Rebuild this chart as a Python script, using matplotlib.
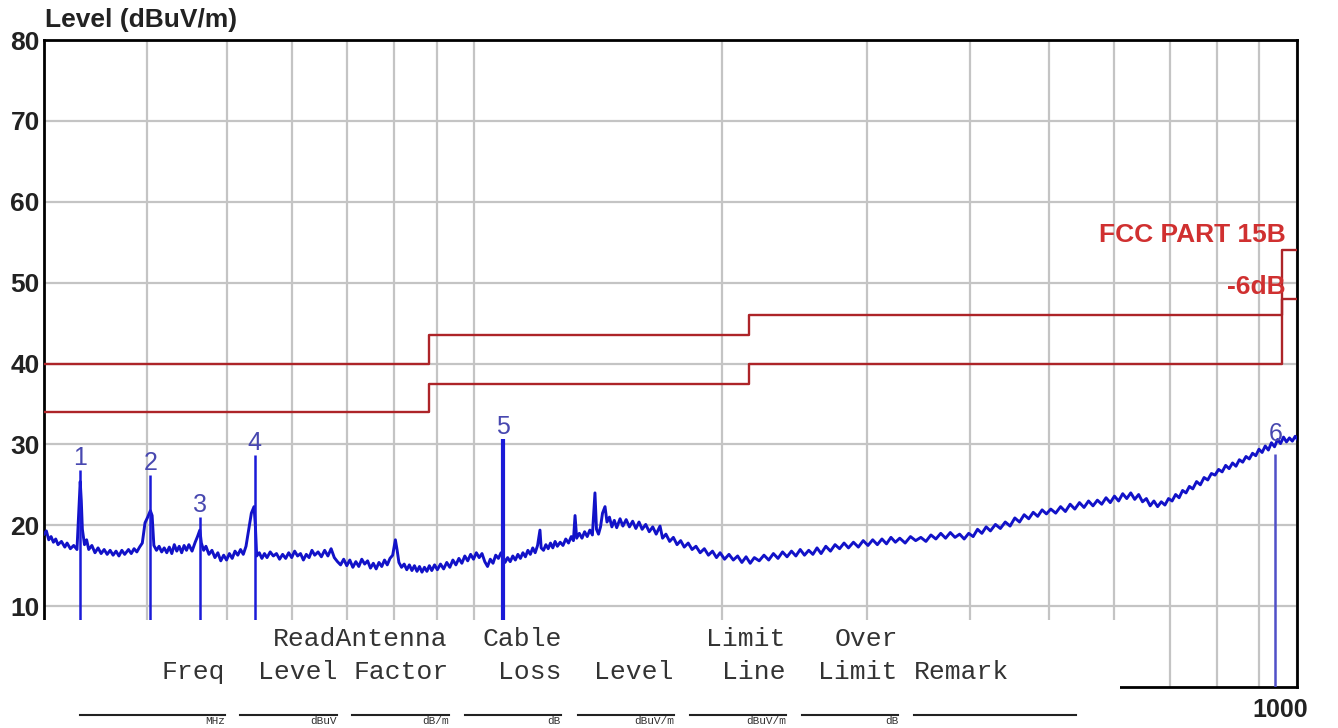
import numpy as np
import matplotlib.pyplot as plt
import matplotlib.transforms as mtransforms
from matplotlib.patches import Rectangle
from matplotlib.lines import Line2D
from matplotlib.ticker import NullFormatter

plt.rcParams['font.family'] = ['Liberation Sans', 'DejaVu Sans']

# scan trace (MHz, dBuV/m)
freq_mhz = [
    30.0, 30.2, 30.4, 30.6, 30.8, 31.0, 31.2, 31.5, 31.8, 32.0,
    32.3, 32.6, 32.9, 33.1, 33.2, 33.3, 33.4, 33.6, 33.8, 34.0,
    34.3, 34.6, 34.9, 35.2, 35.5, 35.8, 36.1, 36.4, 36.7, 37.0,
    37.3, 37.6, 38.0, 38.3, 38.6, 38.9, 39.2, 39.5, 39.8, 40.1,
    40.4, 40.6, 40.8, 41.1, 41.4, 41.7, 42.0, 42.3, 42.6, 42.9,
    43.2, 43.5, 43.8, 44.1, 44.4, 44.7, 45.0, 45.4, 45.8, 46.1,
    46.4, 46.6, 46.9, 47.2, 47.6, 48.0, 48.4, 48.8, 49.2, 49.6,
    50.0, 50.4, 50.8, 51.2, 51.6, 52.0, 52.4, 52.8, 53.2, 53.6,
    54.0, 54.2, 54.4, 54.8, 55.2, 55.6, 56.0, 56.5, 57.0, 57.5,
    58.0, 58.5, 59.0, 59.5, 60.0, 60.5, 61.0, 61.5, 62.0, 62.5,
    63.0, 63.5, 64.0, 64.6, 65.2, 65.8, 66.4, 67.0, 67.6, 68.2,
    68.8, 69.4, 70.0, 70.6, 71.2, 71.8, 72.4, 73.0, 73.6, 74.2,
    74.8, 75.4, 76.0, 76.6, 77.2, 77.8, 78.4, 79.0, 79.6, 80.2,
    80.6, 81.0, 81.6, 82.2, 82.8, 83.4, 84.0, 84.6, 85.2, 85.8,
    86.4, 87.0, 87.6, 88.2, 88.8, 89.5, 90.2, 91.0, 91.8, 92.6,
    93.4, 94.2, 95.0, 95.8, 96.6, 97.4, 98.2, 99.0, 99.8, 100.6,
    101.4, 102.2, 103.0, 103.8, 104.6, 105.4, 106.2, 107.0, 107.8, 108.4,
    109.0, 109.8, 110.6, 111.4, 112.2, 113.0, 113.8, 114.6, 115.4, 116.2,
    117.0, 117.8, 118.6, 119.4, 120.2, 120.6, 121.4, 122.2, 123.0, 123.8,
    124.6, 125.4, 126.2, 127.2, 128.2, 129.2, 130.2, 131.2, 132.0, 132.6,
    133.2, 134.2, 135.2, 136.2, 137.2, 138.2, 139.2, 140.2, 140.8, 141.6,
    142.4, 143.2, 144.2, 145.0, 146.0, 147.0, 148.0, 149.0, 150.4, 151.6,
    153.0, 154.4, 155.8, 157.2, 158.6, 160.0, 161.6, 163.2, 164.8, 166.4,
    168.2, 169.4, 171.0, 172.8, 174.6, 176.4, 178.2, 180.0, 182.0, 184.0,
    186.0, 188.2, 190.4, 192.6, 194.8, 197.0, 199.0, 201.5, 204.0, 206.5,
    209.0, 211.5, 214.0, 216.5, 219.0, 222.0, 225.0, 228.0, 231.0, 234.0,
    237.0, 240.0, 243.0, 246.0, 249.0, 252.0, 255.0, 258.0, 261.0, 264.0,
    267.5, 271.0, 274.5, 278.0, 281.5, 285.0, 289.0, 293.0, 297.0, 301.0,
    305.0, 309.0, 313.0, 317.0, 321.0, 325.0, 329.0, 334.0, 339.0, 344.0,
    349.0, 354.0, 359.0, 364.0, 369.0, 374.0, 379.0, 384.0, 389.0, 394.0,
    399.0, 404.0, 409.0, 414.0, 419.0, 424.0, 430.0, 436.0, 442.0, 448.0,
    454.0, 460.0, 466.0, 472.0, 478.0, 484.0, 490.0, 496.0, 502.0, 509.0,
    516.0, 523.0, 530.0, 537.0, 544.0, 551.0, 558.0, 565.0, 572.0, 579.0,
    586.0, 593.0, 600.0, 607.0, 614.0, 621.0, 628.0, 635.0, 642.0, 649.0,
    656.0, 663.0, 670.0, 677.0, 684.0, 691.0, 698.0, 705.0, 712.0, 719.0,
    726.0, 733.0, 740.0, 747.0, 755.0, 763.0, 771.0, 779.0, 787.0, 795.0,
    803.0, 811.0, 819.0, 827.0, 835.0, 843.0, 851.0, 859.0, 867.0, 875.0,
    883.0, 891.0, 899.0, 907.0, 915.0, 923.0, 931.0, 939.0, 947.0, 955.0,
    963.0, 971.0, 979.0, 987.0, 995.0, 1000.0,
]
level_dbuv = [
    18.9, 19.3, 18.2, 18.6, 17.9, 18.3, 17.6, 18.0, 17.3, 17.8,
    17.1, 17.5, 17.0, 22.5, 25.4, 23.0, 19.5, 17.6, 18.2, 17.0,
    17.5, 16.6, 17.2, 16.5, 17.0, 16.4, 16.9, 16.3, 16.8, 16.2,
    16.9, 16.4, 17.0, 16.5, 17.1, 16.7, 17.3, 17.8, 20.3, 21.0,
    21.8, 21.2, 17.5, 16.9, 17.4, 16.7, 17.2, 16.6, 17.3, 16.5,
    17.6, 16.8, 17.4, 16.6, 17.5, 16.9, 17.6, 16.8, 17.9, 18.6,
    19.4, 17.8, 16.9, 17.4, 16.4, 16.9, 16.0, 16.6, 15.6, 16.3,
    15.7, 16.5, 15.9, 16.8, 16.3, 17.0, 16.4, 17.4, 19.5, 21.5,
    22.3, 20.0, 16.2, 16.6, 15.9, 16.5, 16.0, 16.7, 16.2, 16.5,
    15.8, 16.4, 15.9, 16.6, 16.0, 16.8, 16.2, 16.5, 15.7, 16.4,
    16.0, 16.9, 16.3, 16.7, 16.1, 16.9, 16.2, 17.1, 16.0, 15.5,
    15.1, 15.8, 15.0, 15.7, 14.8, 15.5, 14.9, 15.8, 15.2, 15.6,
    14.7, 15.3, 14.6, 15.4, 14.9, 15.7, 15.1, 15.9, 16.3, 18.2,
    16.9, 15.4, 14.8, 15.2, 14.5, 15.1, 14.4, 15.0, 14.3, 14.9,
    14.2, 14.8, 14.3, 15.0, 14.4, 15.1, 14.5, 15.2, 14.6, 15.4,
    14.8, 15.7, 15.1, 15.9, 15.3, 16.2, 15.6, 16.4, 15.8, 16.6,
    16.0, 16.5, 15.5, 14.9, 15.8, 15.3, 16.3, 15.9, 16.6, 16.2,
    15.4, 16.0, 15.5, 16.2, 15.7, 16.4, 15.9, 16.6, 16.1, 16.9,
    16.4, 17.2, 16.6, 17.5, 19.4, 17.2, 16.9, 17.6, 17.1, 17.8,
    17.2, 18.0, 17.4, 17.9, 17.5, 18.3, 17.8, 18.6, 18.1, 21.2,
    18.4, 19.0, 18.4, 19.2, 18.6, 19.4, 18.8, 24.0, 19.5, 18.9,
    19.8, 21.5, 22.3, 20.4, 21.0, 19.8, 20.6, 19.7, 20.8, 19.9,
    20.7, 19.8, 20.5, 19.6, 20.4, 19.5, 20.1, 19.2, 19.8, 18.9,
    19.9, 18.4, 18.9, 18.0, 18.5, 17.6, 18.1, 17.3, 17.8, 17.0,
    17.4, 16.6, 17.1, 16.3, 16.8, 16.0, 16.6, 15.8, 16.4, 15.7,
    16.2, 15.4, 16.1, 15.3, 16.0, 15.6, 16.3, 15.7, 16.5, 15.9,
    16.7, 16.1, 16.8, 16.2, 17.0, 16.3, 16.9, 16.4, 17.2, 16.5,
    17.4, 16.8, 17.6, 17.1, 17.8, 17.2, 17.9, 17.3, 18.1, 17.5,
    18.2, 17.6, 18.3, 17.7, 18.5, 17.9, 18.4, 17.8, 18.6, 18.1,
    18.5, 18.0, 18.8, 18.3, 19.0, 18.4, 19.1, 18.5, 18.9, 18.3,
    19.0, 18.6, 19.5, 19.0, 19.8, 19.3, 20.1, 19.6, 20.4, 19.9,
    20.9, 20.4, 21.3, 20.8, 21.6, 21.1, 21.9, 21.4, 22.0, 21.5,
    22.3, 21.7, 22.6, 22.0, 22.8, 22.2, 23.0, 22.4, 23.1, 22.6,
    23.4, 22.8, 23.6, 23.0, 23.9, 23.3, 24.0, 23.2, 23.8, 22.9,
    23.3, 22.4, 23.0, 22.3, 22.9, 22.5, 23.3, 23.0, 23.8, 23.4,
    24.3, 24.0, 24.8, 24.5, 25.4, 25.0, 25.9, 25.6, 26.4, 26.2,
    26.9, 26.6, 27.4, 27.0, 27.7, 27.3, 28.1, 27.8, 28.5, 28.2,
    28.9, 28.6, 29.4, 29.0, 29.8, 29.3, 30.2, 29.7, 30.6, 30.1,
    30.9, 30.3, 30.8, 30.4, 31.0, 30.7,
]

# FCC part 15B class B limit and the -6 dB margin line
limit_freq = [30, 88, 88, 216, 216, 960, 960, 1000]
limit_qp = [40, 40, 43.5, 43.5, 46, 46, 54, 54]
limit_margin = [34, 34, 37.5, 37.5, 40, 40, 48, 48]

# marked peaks
marker_ids = ["1", "2", "3", "4", "5", "6"]
marker_freq = [33.2, 40.4, 46.4, 54.1, 108.4, 941.0]
marker_level = [26.8, 26.2, 21.0, 28.7, 30.7, 28.8]

y_ticks = [10, 20, 30, 40, 50, 60, 70, 80]

# result table header, partly covering the plot
header_top = ["ReadAntenna", "Cable", "Limit", "Over"]
header_mid = ["Freq", "Level", "Factor", "Loss", "Level", "Line", "Limit", "Remark"]
header_units = ["MHz", "dBuV", "dB/m", "dB", "dBuV/m", "dBuV/m", "dB"]

W, H = 1338, 728
fig = plt.figure(figsize=(W / 100, H / 100), dpi=100)
ax = fig.add_axes([44 / W, 1 - 687 / H, 1253 / W, 647 / H])

ax.set_xscale("log")
ax.set_xlim(30, 1000)
ax.set_ylim(0, 80)

ax.set_xticks([1000])
ax.set_xticklabels(["1000"])
ax.set_xticks([40, 50, 60, 70, 80, 90, 100, 200, 300, 400, 500, 600, 700, 800, 900], minor=True)
ax.xaxis.set_minor_formatter(NullFormatter())
ax.set_yticks(y_ticks)
ax.set_yticklabels([str(v) for v in y_ticks])
ax.tick_params(which="both", length=0)
ax.tick_params(axis="y", pad=3, labelsize=19)
ax.tick_params(axis="x", pad=8, labelsize=18)
for lab in ax.get_yticklabels() + ax.get_xticklabels():
    lab.set_fontweight("bold")
    lab.set_color("#222222")
for lab in ax.get_xticklabels():
    lab.set_transform(lab.get_transform() + mtransforms.ScaledTranslation(-0.17, 0, fig.dpi_scale_trans))

ax.grid(which="both", color="#c4c4c4", linewidth=1.6)
for sp in ax.spines.values():
    sp.set_linewidth(2)
    sp.set_color("black")

ax.plot(limit_freq, limit_qp, color="#ad2428", linewidth=1.7, zorder=3)
ax.plot(limit_freq, limit_margin, color="#ad2428", linewidth=1.7, zorder=3)

ax.plot(freq_mhz, level_dbuv, color="#1212c8", linewidth=2.1, zorder=4)

for i in range(len(marker_ids)):
    lw = 3.0 if marker_ids[i] == "5" else 1.8
    col = "#5050c8" if marker_ids[i] == "6" else "#1a1ad8"
    ax.vlines(marker_freq[i], 0, marker_level[i], color=col, linewidth=lw, zorder=5)
    dy = 1.0 if marker_ids[i] == "6" else 0.0
    ax.text(marker_freq[i], marker_level[i] + dy, marker_ids[i], ha="center", va="bottom",
            color="#4848b0", fontsize=18, zorder=6)

trans = mtransforms.blended_transform_factory(ax.transAxes, ax.transData)
ax.text(0.991, 55.9, "FCC PART 15B", transform=trans, ha="right", va="center",
        color="#d03030", fontsize=19, fontweight="bold", zorder=6)
ax.text(0.991, 49.4, "-6dB", transform=trans, ha="right", va="center",
        color="#d03030", fontsize=19, fontweight="bold", zorder=6)

fig.text(45 / W, 1 - 20 / H, "Level (dBuV/m)", ha="left", va="center",
         fontsize=19, fontweight="bold", color="#222222")

# white table area laid over the bottom of the plot
fig.add_artist(Rectangle((0, 0), 1120 / W, 108 / H, transform=fig.transFigure,
                         facecolor="white", edgecolor="none", zorder=5))

top_x = [273, 482, 706, 835]
mid_x = [162, 258, 354, 498, 594, 722, 818, 914]
unit_x = [225, 337, 449, 561, 674, 786, 898]
for word, x in zip(header_top, top_x):
    fig.text(x / W, 1 - 646 / H, word, ha="left", va="baseline", family="Liberation Mono",
             fontsize=19, color="#333333", zorder=6)
for word, x in zip(header_mid, mid_x):
    fig.text(x / W, 1 - 679 / H, word, ha="left", va="baseline", family="Liberation Mono",
             fontsize=19, color="#333333", zorder=6)
# units row sits at the very bottom edge, kept small so it stays inside the picture
for word, x in zip(header_units, unit_x):
    fig.text(x / W, 1 - 726 / H, word, ha="right", va="bottom", family="Liberation Mono",
             fontsize=8, color="#333333", zorder=6)

rule_x = [(80, 225), (240, 337), (352, 449), (465, 561), (578, 674), (690, 786), (802, 898), (914, 1076)]
for x0, x1 in rule_x:
    fig.add_artist(Line2D([x0 / W, x1 / W], [1 - 715 / H, 1 - 715 / H], transform=fig.transFigure,
                          color="#222222", linewidth=1.5, zorder=6))

fig.savefig("out.png", dpi=100)
